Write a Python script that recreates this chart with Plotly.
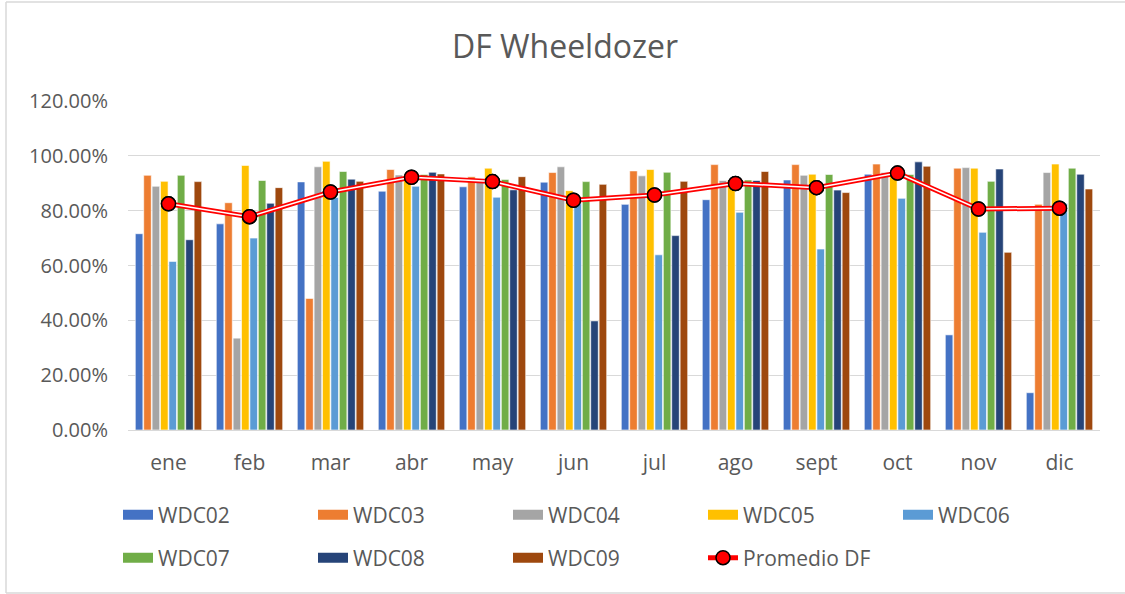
import plotly.graph_objects as go

months = ["ene", "feb", "mar", "abr", "may", "jun", "jul", "ago", "sept", "oct", "nov", "dic"]

wdc02 = [71.6, 75.2, 90.5, 87.1, 88.7, 90.4, 82.3, 84.0, 91.2, 93.3, 34.7, 13.6]
wdc03 = [92.9, 82.9, 48.0, 95.0, 92.4, 93.9, 94.5, 96.8, 96.8, 97.0, 95.5, 82.3]
wdc04 = [88.9, 33.5, 96.0, 93.0, 91.5, 96.0, 92.7, 91.0, 92.9, 93.9, 95.7, 93.9]
wdc05 = [90.7, 96.5, 98.0, 93.0, 95.5, 87.3, 95.0, 91.2, 93.3, 93.4, 95.5, 97.0]
wdc06 = [61.5, 70.0, 84.8, 88.9, 84.9, 82.6, 63.9, 79.4, 66.0, 84.5, 72.1, 82.6]
wdc07 = [92.9, 91.0, 94.3, 93.2, 91.4, 90.6, 94.0, 91.2, 93.2, 93.2, 90.7, 95.5]
wdc08 = [69.4, 82.7, 91.5, 94.0, 87.6, 39.8, 70.9, 91.0, 87.5, 97.8, 95.2, 93.3]
wdc09 = [90.6, 88.4, 90.7, 93.4, 92.4, 89.6, 90.7, 94.3, 86.6, 96.2, 64.8, 87.9]
promedio = [82.5, 77.8, 86.8, 92.2, 90.6, 83.8, 85.7, 89.9, 88.4, 93.7, 80.6, 80.9]

series_names = ["WDC02", "WDC03", "WDC04", "WDC05", "WDC06", "WDC07", "WDC08", "WDC09"]
series_vals = [wdc02, wdc03, wdc04, wdc05, wdc06, wdc07, wdc08, wdc09]
colors = ["#4472C4", "#ED7D31", "#A5A5A5", "#FFC000", "#5B9BD5", "#70AD47", "#264478", "#9E480E"]

FONT = "Open Sans, sans-serif"
TXT = "#595959"

fig = go.Figure()
for i, (n, v, c) in enumerate(zip(series_names, series_vals, colors)):
    fig.add_trace(go.Bar(
        x=months, y=[a / 100 for a in v], name=n, legendgroup=n, showlegend=False,
        marker=dict(color=c, line=dict(color="white", width=0.6)),
    ))
    # legend entry with a wide swatch
    fig.add_trace(go.Scatter(
        x=[None], y=[None], name=n, legendgroup=n, mode="lines",
        line=dict(color=c, width=14),
        legend="legend" if i < 5 else "legend2",
    ))

avg = [a / 100 for a in promedio]
fig.add_trace(go.Scatter(
    x=months, y=avg, name="Promedio DF", mode="lines+markers",
    line=dict(color="#FF0000", width=5),
    marker=dict(color="#FF0000", size=14, line=dict(color="black", width=1.5)),
    legend="legend2", legendgroup="prom",
))
fig.add_trace(go.Scatter(
    x=months, y=avg, mode="lines", showlegend=False, legendgroup="prom",
    line=dict(color="white", width=1.5), hoverinfo="skip",
))
fig.add_trace(go.Scatter(
    x=months, y=avg, mode="markers", showlegend=False, legendgroup="prom",
    marker=dict(color="#FF0000", size=14, line=dict(color="black", width=1.5)),
    hoverinfo="skip",
))

L, R, T, B = 128, 25, 101, 164
W, H = 1125, 594
pw, ph = W - L - R, H - T - B

legend_common = dict(
    orientation="h", xanchor="left", yanchor="middle",
    font=dict(family=FONT, size=21, color=TXT),
    entrywidth=150, entrywidthmode="pixels",
    bgcolor="rgba(0,0,0,0)", itemwidth=30, traceorder="normal",
)

def px(x):
    return (x - L) / pw

def py(y):
    return (T + ph - y) / ph

border = dict(color="#d9d9d9", width=1.5)

fig.update_layout(
    width=W, height=H,
    margin=dict(l=L, r=R, t=T, b=B, autoexpand=False),
    paper_bgcolor="white", plot_bgcolor="white",
    title=dict(text="DF Wheeldozer", x=px(565), xref="paper", xanchor="center",
               y=1 - 47 / H, yanchor="middle",
               font=dict(family=FONT, size=32, color=TXT)),
    barmode="group", bargap=0.17, bargroupgap=0.1,
    xaxis=dict(
        range=[-0.5, len(months) - 0.5],
        tickfont=dict(family=FONT, size=21, color=TXT),
        showline=True, linecolor="#d9d9d9", linewidth=1,
        ticks="", showgrid=False, ticklabelstandoff=14,
    ),
    yaxis=dict(
        range=[0, 1.2], dtick=0.2, tickformat=".2%",
        tickfont=dict(family=FONT, size=20, color=TXT),
        gridcolor="#d9d9d9", gridwidth=1, zeroline=False,
        ticks="", ticklen=0, ticklabelstandoff=19,
    ),
    legend=dict(x=px(118), y=py(515), **legend_common),
    legend2=dict(x=px(118), y=py(558), **legend_common),
    showlegend=True,
    shapes=[
        dict(type="line", xref="paper", yref="paper", x0=px(6), x1=px(6), y0=py(593), y1=py(2), line=border),
        dict(type="line", xref="paper", yref="paper", x0=px(6), x1=px(1125), y0=py(2), y1=py(2), line=border),
        dict(type="line", xref="paper", yref="paper", x0=px(6), x1=px(1125), y0=py(593), y1=py(593), line=border),
    ],
)

fig.write_html("out.html", config={"displayModeBar": False},
               post_script="document.body.style.margin='0px';")
